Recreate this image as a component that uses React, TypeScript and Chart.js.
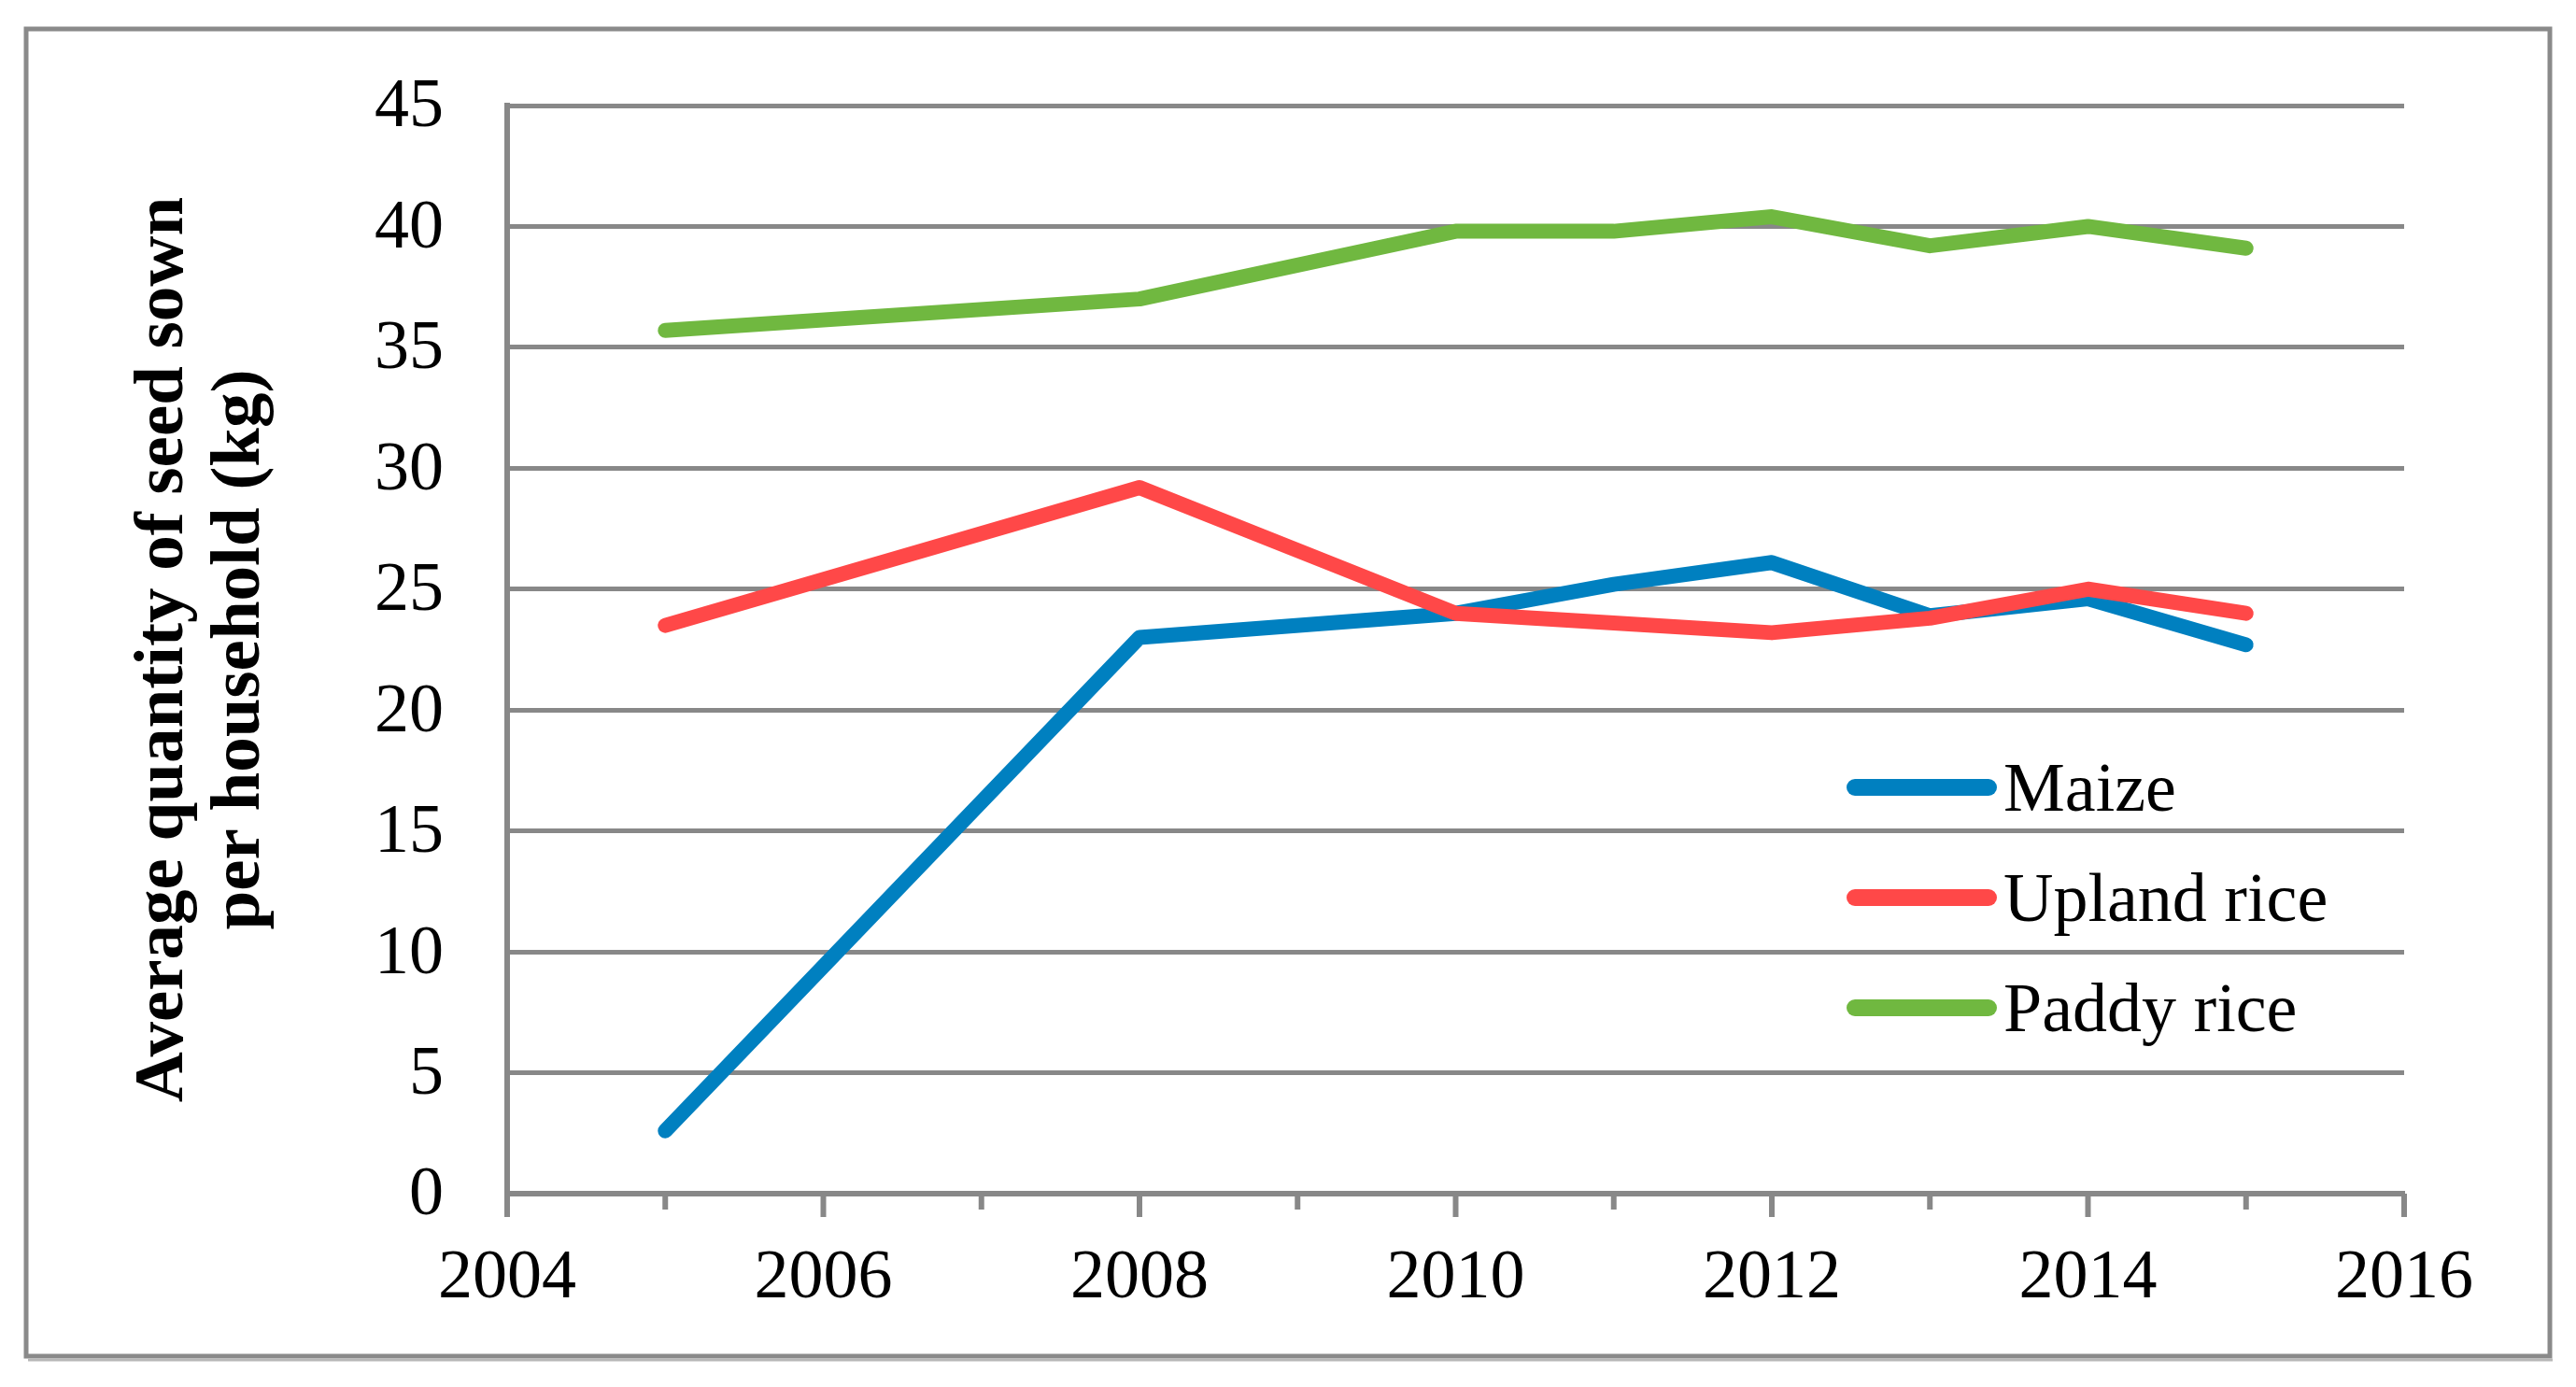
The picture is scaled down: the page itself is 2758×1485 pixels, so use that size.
import React, { useEffect, useRef } from 'react';
import { Chart, registerables } from 'chart.js';

Chart.register(...registerables);

// ---- data ----
const years = [2005, 2008, 2010, 2011, 2012, 2013, 2014, 2015];
const maize = [2.6, 23.0, 24.0, 25.2, 26.1, 23.9, 24.6, 22.7];
const uplandRice = [23.5, 29.2, 24.0, 23.6, 23.2, 23.8, 25.0, 24.0];
const paddyRice = [35.7, 37.0, 39.8, 39.8, 40.4, 39.2, 40.0, 39.1];
const seriesLabels = ['Maize', 'Upland rice', 'Paddy rice'];
const yTitle = ['Average quantity of seed sown', 'per household (kg)'];
const xRange = [2004, 2016];
const yRange = [0, 45];
const yStep = 5;

// ---- styles ----
const COLORS = ['#0080c0', '#ff4848', '#70b840'];
const GRID = '#888888';
const FONT = '"Liberation Serif", "Times New Roman", serif';
const W = 2758;
const H = 1485;
const PAD_LEFT = 20;
const AREA_LEFT = 543;
const AREA_BOTTOM = 1278;

const decorPlugin = {
  id: 'decor',
  beforeDraw(chart: any) {
    const ctx = chart.ctx;
    ctx.save();
    ctx.fillStyle = '#ffffff';
    ctx.fillRect(0, 0, chart.width, chart.height);
    ctx.restore();
  },
  afterDraw(chart: any) {
    const ctx = chart.ctx;
    const xs = chart.scales.x;
    const bottom = chart.chartArea.bottom;
    ctx.save();
    // outer frame
    ctx.strokeStyle = '#8a8a8a';
    ctx.lineWidth = 5;
    ctx.strokeRect(28, 31, 2730 - 28, 1452 - 31);
    ctx.lineWidth = 3;
    ctx.strokeStyle = '#b8b8b8';
    ctx.beginPath();
    ctx.moveTo(30, 1456);
    ctx.lineTo(2733, 1456);
    ctx.stroke();
    // x ticks (major on even years, minor on odd)
    ctx.strokeStyle = GRID;
    ctx.lineWidth = 6;
    xs.ticks.forEach((t: any) => {
      const px = xs.getPixelForValue(t.value);
      const len = t.value % 2 === 0 ? 25 : 17;
      ctx.beginPath();
      ctx.moveTo(px, bottom);
      ctx.lineTo(px, bottom + len);
      ctx.stroke();
    });
    // legend
    const lx1 = 1977;
    const lx2 = 2138;
    const ly0 = 843;
    const dy = 118;
    ctx.font = `74px ${FONT}`;
    ctx.textAlign = 'left';
    ctx.textBaseline = 'alphabetic';
    chart.data.datasets.forEach((ds: any, i: number) => {
      const y = ly0 + i * dy;
      ctx.strokeStyle = ds.borderColor;
      ctx.lineWidth = 18;
      ctx.lineCap = 'round';
      ctx.beginPath();
      ctx.moveTo(lx1 + 9, y);
      ctx.lineTo(lx2 - 9, y);
      ctx.stroke();
      ctx.fillStyle = '#000000';
      ctx.fillText(ds.label, 2145, y + 25);
    });
    ctx.restore();
  },
};

export default function App() {
  const ref = useRef<HTMLCanvasElement | null>(null);

  useEffect(() => {
    if (!ref.current) return;
    const series = [maize, uplandRice, paddyRice];
    const chart = new Chart(ref.current, {
      type: 'line',
      data: {
        datasets: series.map((vals, i) => ({
          label: seriesLabels[i],
          data: years.map((yr, j) => ({ x: yr, y: vals[j] })),
          borderColor: COLORS[i],
          backgroundColor: COLORS[i],
          borderWidth: 16,
          pointRadius: 0,
          pointHoverRadius: 0,
          tension: 0,
          fill: false,
          borderCapStyle: 'round',
          borderJoinStyle: 'round',
          order: 3 - i,
        })),
      },
      options: {
        animation: false,
        responsive: false,
        maintainAspectRatio: false,
        devicePixelRatio: 1,
        layout: { padding: { left: PAD_LEFT, top: 113, right: 184, bottom: 0 } },
        plugins: {
          legend: { display: false },
          tooltip: { enabled: false },
        },
        scales: {
          x: {
            type: 'linear',
            min: xRange[0],
            max: xRange[1],
            afterFit: (scale: any) => {
              scale.height = H - AREA_BOTTOM;
            },
            ticks: {
              stepSize: 1,
              autoSkip: false,
              maxRotation: 0,
              padding: 47,
              color: '#000000',
              font: { family: FONT, size: 74 },
              callback: (v: any) => (Number(v) % 2 === 0 ? String(v) : ''),
            },
            grid: { display: true, drawOnChartArea: false, drawTicks: false, color: GRID },
            border: { display: true, color: GRID, width: 6 },
          },
          y: {
            type: 'linear',
            min: yRange[0],
            max: yRange[1],
            afterFit: (scale: any) => {
              scale.width = AREA_LEFT - PAD_LEFT;
            },
            ticks: {
              stepSize: yStep,
              padding: 68,
              labelOffset: 3,
              color: '#000000',
              font: { family: FONT, size: 74 },
            },
            grid: { color: GRID, lineWidth: 5, drawTicks: false },
            border: { display: true, color: GRID, width: 6 },
            title: {
              display: true,
              text: yTitle,
              color: '#000000',
              font: { family: FONT, size: 75, weight: 'bold', lineHeight: 1.1 },
              padding: { top: 114, bottom: 90 },
            },
          },
        },
      },
      plugins: [decorPlugin],
    } as any);
    return () => chart.destroy();
  }, []);

  return (
    <div style={{ position: 'fixed', left: 0, top: 0, width: W, height: H, background: '#fff' }}>
      <canvas ref={ref} width={W} height={H} style={{ display: 'block', width: W, height: H }} />
    </div>
  );
}
